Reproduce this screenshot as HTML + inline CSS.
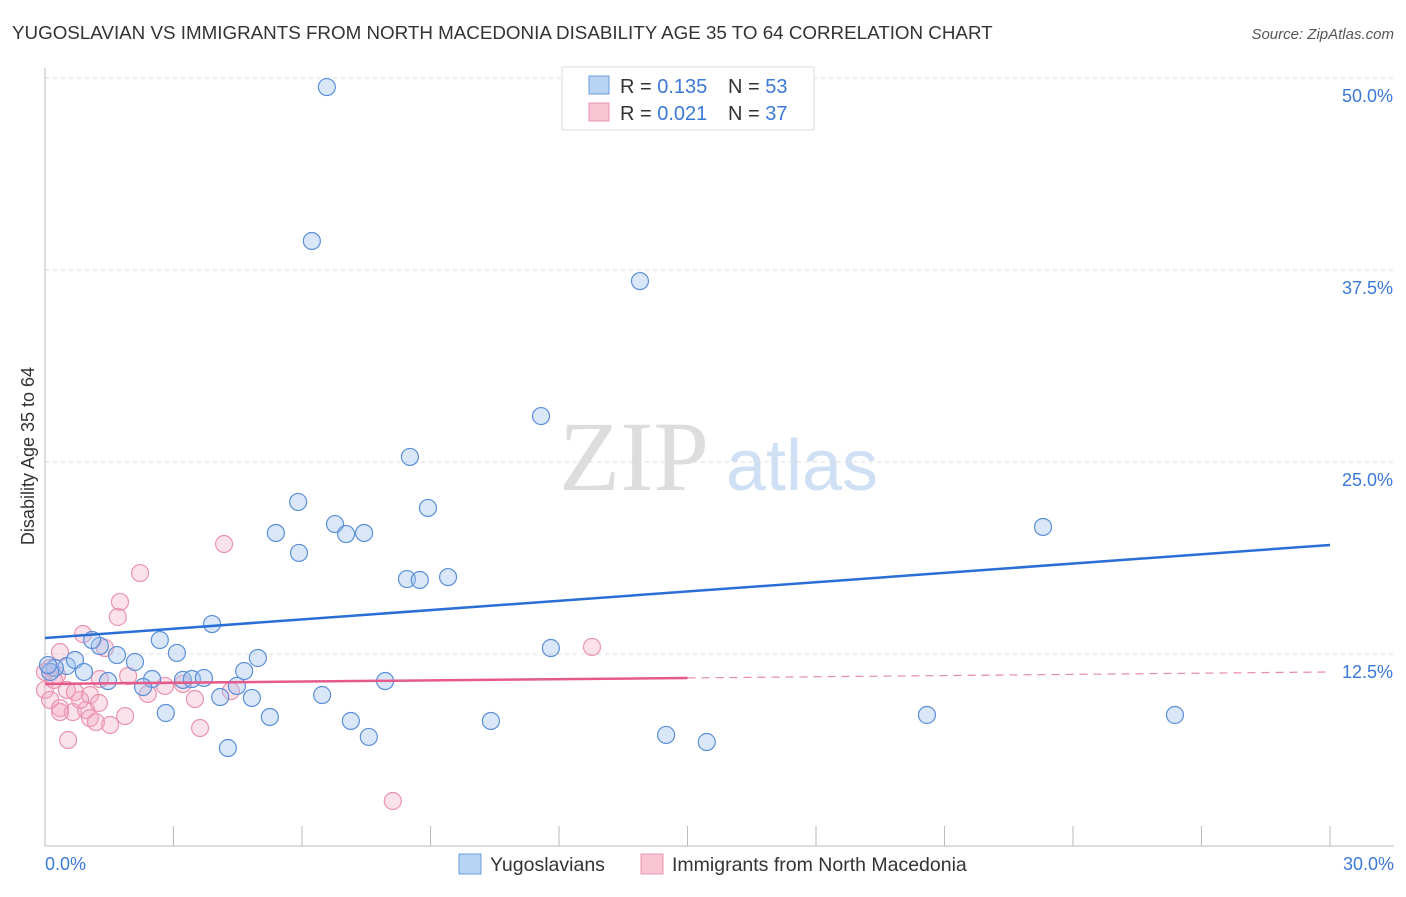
<!DOCTYPE html>
<html><head><meta charset="utf-8"><style>
body{margin:0;background:#fff;font-family:"Liberation Sans",sans-serif;}
svg text{font-family:"Liberation Sans",sans-serif;}
svg text.serif{font-family:"Liberation Serif",serif;}
</style></head><body>
<svg id="chart" width="1406" height="892">
<text x="12" y="39" font-size="18.8" fill="#333">YUGOSLAVIAN VS IMMIGRANTS FROM NORTH MACEDONIA DISABILITY AGE 35 TO 64 CORRELATION CHART</text>
<text x="1394" y="39" font-size="15" fill="#555" text-anchor="end" font-style="italic">Source: ZipAtlas.com</text>
<text class="serif" x="634" y="490" font-size="100" fill="#ddd" text-anchor="middle">ZIP</text>
<text x="802" y="490" font-size="72" fill="#cfe0f5" text-anchor="middle">atlas</text>
<text transform="translate(34,456) rotate(-90)" font-size="18" fill="#333" text-anchor="middle">Disability Age 35 to 64</text>
<g id="grid"></g><g id="marks"></g>
<g>
<rect x="562" y="67" width="252" height="63" fill="#fff" stroke="#ddd"/>
<rect x="589" y="76" width="20" height="18" fill="#b9d3f3" stroke="#6b9bdc"/>
<rect x="589" y="103" width="20" height="18" fill="#f8c4d3" stroke="#ea94ae"/>
<text x="620" y="93" font-size="20" fill="#333">R = <tspan fill="#3b78d8">0.135</tspan></text>
<text x="728" y="93" font-size="20" fill="#333">N = <tspan fill="#3b78d8">53</tspan></text>
<text x="620" y="120" font-size="20" fill="#333">R = <tspan fill="#3b78d8">0.021</tspan></text>
<text x="728" y="120" font-size="20" fill="#333">N = <tspan fill="#3b78d8">37</tspan></text>
</g>
<g>
<rect x="459" y="854" width="22" height="20" fill="#b9d3f3" stroke="#6b9bdc"/>
<text x="490" y="871" font-size="19.5" fill="#333">Yugoslavians</text>
<rect x="641" y="854" width="22" height="20" fill="#f8c4d3" stroke="#ea94ae"/>
<text x="672" y="871" font-size="19.5" fill="#333">Immigrants from North Macedonia</text>
</g>
</svg>
<script>
const blueX=[6.58,6.23,13.89,11.58,8.52,5.91,8.94,6.77,7.03,7.45,5.39,5.93,23.30,8.45,8.75,9.41,3.90,2.68,1.28,1.10,1.68,2.10,3.08,4.97,4.65,0.51,0.70,0.23,0.12,0.91,1.47,2.50,2.29,3.22,3.43,3.71,4.48,4.09,4.83,6.47,7.94,11.81,2.82,5.25,7.14,10.41,7.56,4.27,14.50,15.45,20.59,26.38,0.07];
const blueY=[49.41,39.39,36.78,27.99,25.33,22.40,22.01,20.96,20.31,20.38,20.38,19.08,20.77,17.38,17.32,17.51,14.45,13.41,13.02,13.41,12.43,11.98,12.57,12.24,11.39,11.72,12.11,11.59,11.33,11.33,10.74,10.87,10.35,10.81,10.87,10.94,10.42,9.70,9.64,9.83,10.74,12.89,8.66,8.40,8.14,8.14,7.10,6.38,7.23,6.77,8.53,8.53,11.78];
const pinkX=[4.18,2.22,1.75,1.70,0.89,1.40,0.35,0.12,0.28,0.00,0.12,0.51,0.70,1.05,1.28,1.94,2.80,2.40,3.22,3.50,4.34,0.35,0.65,0.96,1.26,0.82,1.05,1.19,1.52,1.87,3.62,0.54,8.12,12.77,0.35,0.00,0.21];
const pinkY=[19.66,17.77,15.89,14.91,13.80,12.89,12.63,11.59,11.13,10.16,9.51,10.16,10.03,9.83,10.87,11.07,10.42,9.90,10.55,9.57,10.09,8.98,8.72,8.85,9.31,9.51,8.33,8.07,7.88,8.46,7.68,6.90,2.93,12.96,8.72,11.33,10.81];
const yTicks=[12.5,25,37.5,50];
const yTickLabels=["12.5%","25.0%","37.5%","50.0%"];
const xTicks=[0,3,6,9,12,15,18,21,24,27,30];
const blueTrend=[13.54,19.60];
const pinkTrend=[10.55,11.33];
const NS="http://www.w3.org/2000/svg";
const sx=v=>45+v/30*1285, sy=v=>846-v/12.5*192;
function mk(t,a,p){const e=document.createElementNS(NS,t);for(const k in a)e.setAttribute(k,a[k]);p.appendChild(e);return e;}
const g=document.getElementById('grid'), m=document.getElementById('marks');
let ax=mk('line',{x1:45,y1:68,x2:45,y2:846,stroke:'#bbb'},g);


let bx=mk('line',{x1:45,y1:846,x2:1394,y2:846,stroke:'#bbb'},g);


yTicks.forEach((v,i)=>{
 const l=mk('line',{x1:45,x2:1394,y1:sy(v),y2:sy(v),stroke:'#ddd','stroke-dasharray':'4,4'},g);
 
 
 const t=mk('text',{x:1393,y:sy(v)+24,'font-size':18,fill:'#3b78d8','text-anchor':'end'},g);t.textContent=yTickLabels[i];
 
 
});
xTicks.forEach(v=>{
 const l=mk('line',{x1:sx(v),x2:sx(v),y1:826,y2:846,stroke:'#bbb'},g);
 
 
});
[[0,"0.0%",'start',45],[30,"30.0%",'end',1394]].forEach(d=>{
 const t=mk('text',{x:d[3],y:870,'font-size':18,fill:'#3b78d8','text-anchor':d[2]},g);t.textContent=d[1];
 
 
});
pinkX.forEach((x,i)=>{
 const c=mk('circle',{cx:sx(x),cy:sy(pinkY[i]),r:8.5,fill:'rgba(244,170,194,0.35)',stroke:'#ea94ae','stroke-width':1.2},m);
 
 
});
blueX.forEach((x,i)=>{
 const c=mk('circle',{cx:sx(x),cy:sy(blueY[i]),r:8.5,fill:'rgba(160,195,240,0.4)',stroke:'#5b8fd8','stroke-width':1.2},m);
 
 
});
let bl=mk('line',{x1:sx(0),y1:sy(blueTrend[0]),x2:sx(30),y2:sy(blueTrend[1]),stroke:'#2a6fd6','stroke-width':2.5},m);


const pm=(pinkTrend[0]+pinkTrend[1])/2;
let pl=mk('line',{x1:sx(0),y1:sy(pinkTrend[0]),x2:sx(15),y2:sy(pm),stroke:'#e55a8a','stroke-width':2.5},m);


let pd=mk('line',{x1:sx(15),y1:sy(pm),x2:sx(30),y2:sy(pinkTrend[1]),stroke:'#e88aa8','stroke-width':1.2,'stroke-dasharray':'8,6'},m);


</script>
</body></html>
